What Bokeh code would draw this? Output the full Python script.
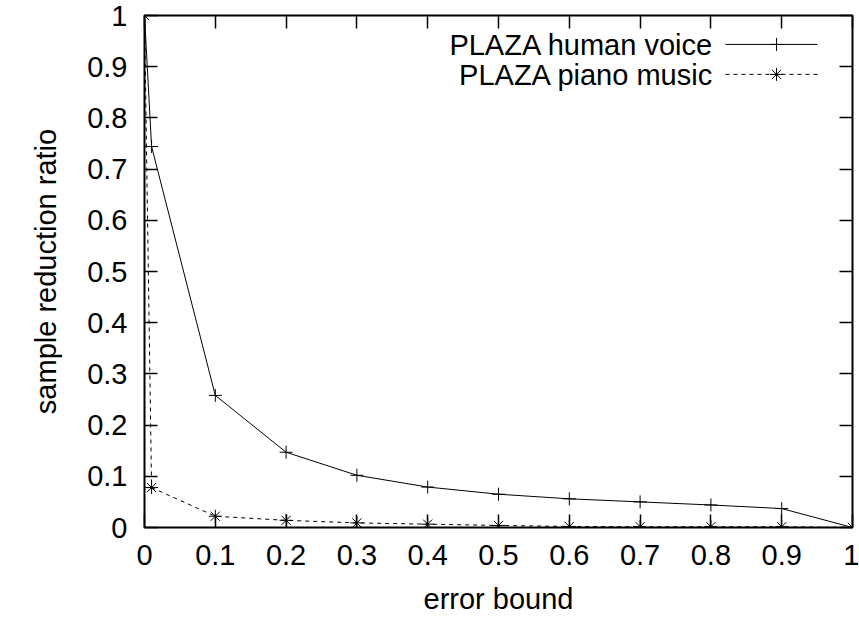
from bokeh.plotting import figure
from bokeh.models import FixedTicker, LinearAxis, Range1d, Label
from bokeh.embed import file_html
from bokeh.resources import INLINE

# ---- data ----
error_bound = [0.0, 0.01, 0.1, 0.2, 0.3, 0.4, 0.5, 0.6, 0.7, 0.8, 0.9, 1.0]
human_voice = [1.0, 0.744, 0.258, 0.147, 0.102, 0.079, 0.065, 0.056, 0.050, 0.044, 0.037, 0.0]
piano_music = [1.0, 0.078, 0.022, 0.014, 0.009, 0.0065, 0.004, 0.002, 0.0015, 0.0015, 0.0015, 0.0]

x_ticks = [0.0, 0.1, 0.2, 0.3, 0.4, 0.5, 0.6, 0.7, 0.8, 0.9, 1.0]
x_tick_labels = ["0", "0.1", "0.2", "0.3", "0.4", "0.5", "0.6", "0.7", "0.8", "0.9", "1"]
y_ticks = [0.0, 0.1, 0.2, 0.3, 0.4, 0.5, 0.6, 0.7, 0.8, 0.9, 1.0]
y_tick_labels = ["0", "0.1", "0.2", "0.3", "0.4", "0.5", "0.6", "0.7", "0.8", "0.9", "1"]

series_names = ["PLAZA human voice", "PLAZA piano music"]

# ---- style ----
FONT = "Liberation Sans"
FS = "29px"
TICK_LEN = 13

p = figure(width=859, height=617, x_range=Range1d(0, 1), y_range=Range1d(0, 1),
           output_backend="svg", toolbar_location=None,
           min_border_left=144, min_border_right=7, min_border_top=15, min_border_bottom=89)
p.grid.visible = False
p.outline_line_color = "black"
p.outline_line_width = 2
p.background_fill_color = "white"
p.border_fill_color = "white"

def style_axis(ax, ticks, labels, show_labels=True):
    ax.ticker = FixedTicker(ticks=ticks)
    ax.major_tick_in = TICK_LEN
    ax.major_tick_out = 0
    ax.major_tick_line_color = "black"
    ax.major_tick_line_width = 1.5
    ax.minor_tick_line_color = None
    ax.axis_line_color = None
    ax.major_label_text_font = FONT
    ax.major_label_text_font_size = FS
    ax.major_label_text_color = "black"
    ax.axis_label_text_font = FONT
    ax.axis_label_text_font_size = FS
    ax.axis_label_text_font_style = "normal"
    ax.axis_label_text_color = "black"
    if show_labels:
        ax.major_label_overrides = {t: l for t, l in zip(ticks, labels)}
    else:
        ax.major_label_overrides = {t: "" for t in ticks}
        ax.major_label_standoff = 0

style_axis(p.xaxis[0], x_ticks, x_tick_labels)
style_axis(p.yaxis[0], y_ticks, y_tick_labels)
p.xaxis[0].axis_label = "error bound"
p.yaxis[0].axis_label = "sample reduction ratio"
p.xaxis[0].major_label_standoff = 17
p.yaxis[0].major_label_standoff = 17
p.xaxis[0].axis_label_standoff = 15
p.yaxis[0].axis_label_standoff = 22

right_ax = LinearAxis()
style_axis(right_ax, y_ticks, y_tick_labels, show_labels=False)
p.add_layout(right_ax, "right")
top_ax = LinearAxis()
style_axis(top_ax, x_ticks, x_tick_labels, show_labels=False)
p.add_layout(top_ax, "above")

# ---- series ----
p.line(error_bound, human_voice, line_color="black", line_width=1)
p.scatter(error_bound, human_voice, marker="cross", size=13, line_color="black",
          fill_color=None, line_width=1)
p.line(error_bound, piano_music, line_color="black", line_width=1, line_dash="4 4")
p.scatter(error_bound, piano_music, marker="asterisk", size=13, line_color="black",
          fill_color=None, line_width=1)

# ---- legend (gnuplot style: text right-aligned, key sample on the right) ----
LEG_TEXT_X = 0.804
LEG_X0, LEG_X1, LEG_XM = 0.8206, 0.9506, 0.8927
LEG_LINE_Y = [0.9435, 0.885]
LEG_TEXT_Y = [0.9417, 0.8832]
markers = ["cross", "asterisk"]
dashes = ["solid", "4 4"]
for name, ly, ty, mk, dash in zip(series_names, LEG_LINE_Y, LEG_TEXT_Y, markers, dashes):
    p.add_layout(Label(x=LEG_TEXT_X, y=ty, text=name, text_align="right",
                       text_baseline="alphabetic", text_font=FONT, text_font_size=FS,
                       text_color="black"))
    p.line([LEG_X0, LEG_X1], [ly, ly], line_color="black", line_width=1, line_dash=dash)
    p.scatter([LEG_XM], [ly], marker=mk, size=13, line_color="black", fill_color=None)

open("out.html", "w").write(file_html(p, INLINE))
